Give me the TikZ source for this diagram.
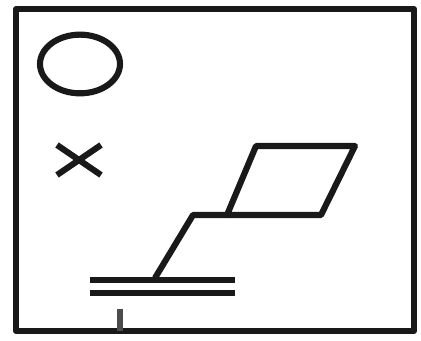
\documentclass[tikz,border=0pt]{standalone}
\usetikzlibrary{
    shapes.geometric,
    positioning,
    calc
}
\tikzstyle{stroke} = [
    draw=black!90,
    line width=4.6pt,
    line join=round
]
\tikzstyle{thinbar} = [
    draw=black!90,
    line width=4.2pt
]
\tikzstyle{dot} = [
    inner sep=0pt,
    minimum size=0pt
]
\begin{document}
\begin{tikzpicture}[x=0.75pt,y=-0.75pt]
        \useasboundingbox (0,0) rectangle (421,341);
        % frame
        \node[dot] (tl) at (16,9) {};
        \node[dot] (tr) at (414,9) {};
        \node[dot] (br) at (414,331) {};
        \node[dot] (bl) at (16,331) {};
        \draw[stroke] (tl.center) -- (tr.center) -- (br.center) -- (bl.center) -- cycle;

        \node[draw=black!90, line width=4.6pt, ellipse, minimum width=60pt, minimum height=44pt, inner sep=0pt] (ring) at (80,64) {};

        % cross
        \node[dot] (c1) at (57,145) {};
        \node[dot] (c2) at (101,175) {};
        \node[dot] (c3) at (101,145) {};
        \node[dot] (c4) at (57,175) {};
        \draw[stroke] (c1.center) -- (c2.center);
        \draw[stroke] (c3.center) -- (c4.center);

        % parallelogram and stem
        \node[dot] (p1) at (256,146) {};
        \node[dot] (p2) at (355,146) {};
        \node[dot] (p3) at (321,215) {};
        \node[dot] (p4) at (227,215) {};
        \node[dot] (kink) at (193,215) {};
        \node[dot] (foot) at (155,278) {};
        \draw[stroke] (p1.center) -- (p2.center) -- (p3.center) -- (p4.center) -- cycle;
        \draw[stroke] (p4.center) -- (kink.center) -- (foot.center);

        % ground bars
        \node[dot] (b1) at (90,280) {};
        \node[dot] (b2) at (235,280) {};
        \node[dot] (b3) at (90,293) {};
        \node[dot] (b4) at (235,293) {};
        \draw[thinbar] (b1.center) -- (b2.center);
        \draw[thinbar] (b3.center) -- (b4.center);

        \node[dot] (t1) at (120,309) {};
        \node[dot] (t2) at (120,331) {};
        \draw[stroke, line width=4.5pt, draw=black!70] (t1.center) -- (t2.center);
    \end{tikzpicture}
\end{document}
